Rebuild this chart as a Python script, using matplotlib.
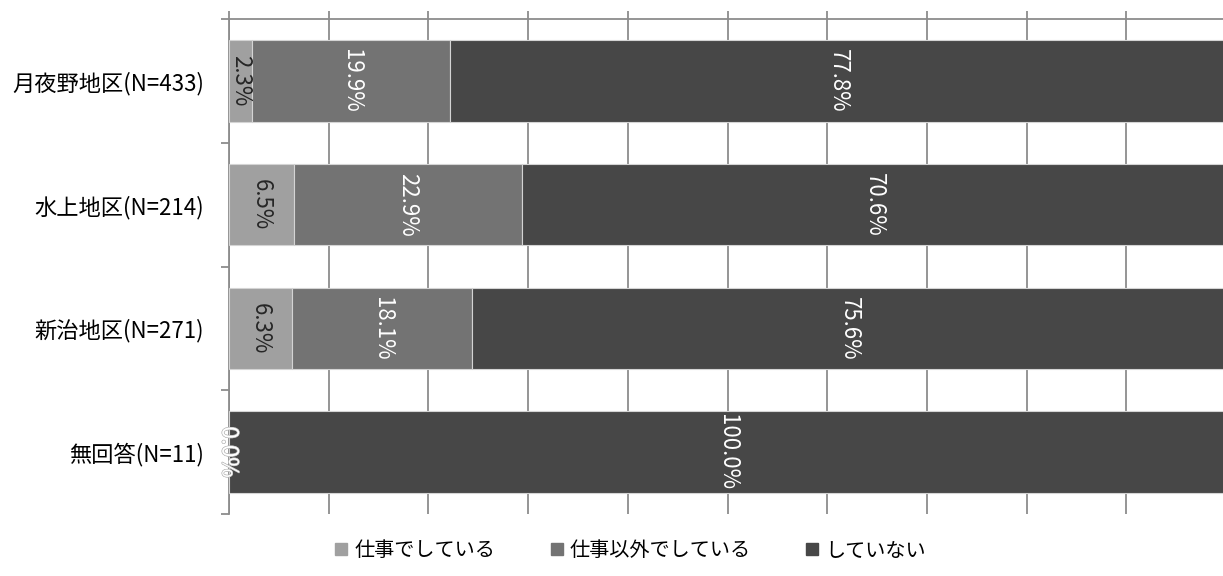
import numpy as np
import matplotlib
matplotlib.use("Agg")
from matplotlib import pyplot as plt
from matplotlib.lines import Line2D
import matplotlib.patheffects as pe

plt.rcParams['font.family'] = ['Noto Sans CJK JP', 'DejaVu Sans']

categories = ['月夜野地区(N=433)', '水上地区(N=214)', '新治地区(N=271)', '無回答(N=11)']
series_names = ['仕事でしている', '仕事以外でしている', 'していない']
work = [2.3, 6.5, 6.3, 0.0]
other = [19.9, 22.9, 18.1, 0.0]
none = [77.8, 70.6, 75.6, 100.0]
colors = ['#a0a0a0', '#737373', '#474747']
label_colors = ['#262626', 'white', 'white']

W, H = 1223, 576
fig = plt.figure(figsize=(W / 100, H / 100), dpi=100)
ax = fig.add_axes([229 / W, 1 - 514 / H, (1226 - 229) / W, (514 - 19) / H])

y = np.arange(len(categories))
left = np.zeros(len(categories))
for vals, col, lc in zip([work, other, none], colors, label_colors):
    vals = np.array(vals)
    ax.barh(y, vals, left=left, height=0.66, color=col, edgecolor='#d4d4d4',
            linewidth=0.8, zorder=3)
    for yi, l, v in zip(y, left, vals):
        txt = ax.text(l + v / 2, yi, f'{v:.1f}%', rotation=270, ha='center',
                      va='center', fontsize=16, color=lc, zorder=4)
        if v == 0:
            txt.set_color('white')
            txt.set_path_effects([pe.withStroke(linewidth=0.8, foreground='#b4b4b4')])
    left = left + vals

ax.set_xlim(0, 100)
ax.set_ylim(len(categories) - 0.5, -0.5)
ax.set_xticks(np.arange(0, 101, 10))
ax.xaxis.tick_top()
ax.tick_params(axis='x', which='major', length=6, width=1.3, color='#8c8c8c',
               labeltop=False, labelbottom=False, direction='out')
ax.grid(axis='x', color='#8c8c8c', linewidth=1.3, zorder=0)

ax.set_yticks(y)
ax.set_yticklabels(categories, fontsize=16)
ax.set_yticks(np.arange(-0.5, len(categories)), minor=True)
ax.tick_params(axis='y', which='major', length=0, pad=18)
ax.tick_params(axis='y', which='minor', length=6, width=1.3, color='#8c8c8c')

for s in ['right', 'bottom']:
    ax.spines[s].set_visible(False)
for s in ['left', 'top']:
    ax.spines[s].set_color('#8c8c8c')
    ax.spines[s].set_linewidth(1.3)

handles = [Line2D([], [], marker='s', linestyle='none', markersize=8.5,
                  markerfacecolor=c, markeredgecolor=c) for c in colors]
fig.legend(handles, series_names, loc='center', bbox_to_anchor=(630 / W, 1 - 551 / H),
           ncol=3, frameon=False, fontsize=14.5, handlelength=0.7,
           handletextpad=0.3, columnspacing=2.7)

fig.savefig('out.png', dpi=100)
